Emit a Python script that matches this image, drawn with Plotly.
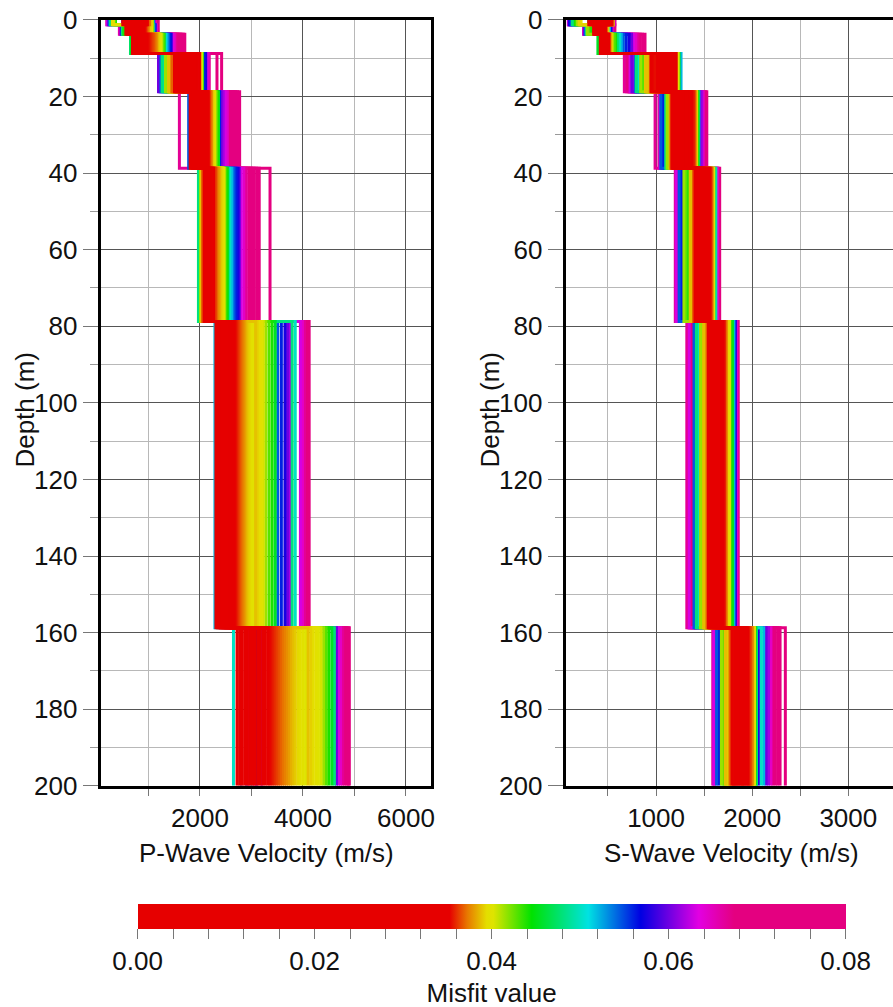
import plotly.graph_objects as go
from plotly.colors import sample_colorscale

FONT = "Liberation Sans, Arial, Helvetica, sans-serif"
FS = 26

# layer tops (m) and bottom of the model
LAYER_TOPS = [0, 1.25, 3.75, 8.75, 18.75, 38.75, 78.75, 158.75]
MAX_DEPTH = 200

# misfit of each model (groups: red, red-orange, orange, yellow, green, cyan, blue, purple, magenta, pink, extra yellow)
MISFIT = [0.012, 0.016, 0.019, 0.022, 0.024, 0.026, 0.028, 0.030, 0.031, 0.032, 0.033, 0.034,
          0.0350, 0.0353, 0.0356, 0.0359, 0.0362, 0.0365,
          0.0368, 0.0371, 0.0374, 0.0377, 0.0380, 0.0384,
          0.0388, 0.0391, 0.0394, 0.0397, 0.0400, 0.0404,
          0.0415, 0.0428, 0.0440, 0.0455,
          0.0480, 0.0500, 0.0520,
          0.0545, 0.0560, 0.0575,
          0.0600, 0.0615,
          0.0630, 0.0645,
          0.0665, 0.0685, 0.0705, 0.0725, 0.0745, 0.0770, 0.0795,
          0.0387, 0.0390, 0.0393, 0.0395, 0.0398, 0.0401]

# P-wave velocity (m/s) of every model, per layer
VP_L1 = [500, 540, 580, 620, 660, 700, 740, 780, 820, 860, 900, 940,
         960, 980, 600, 700, 800, 900,
         1000, 1020, 650, 750, 850, 950,
         1040, 1060, 300, 320, 700, 800,
         1080, 340, 360, 600,
         260, 280, 1090,
         240, 1100, 500,
         220, 1110,
         200, 1130,
         190, 1150, 1170, 1190, 700, 800, 900,
         1030, 1050, 600, 700, 800, 900]
VP_L2 = [560, 590, 620, 650, 680, 710, 740, 770, 800, 830, 860, 890,
         905, 920, 935, 950, 600, 700,
         965, 980, 995, 650, 750, 850,
         1010, 1025, 1040, 1055, 700, 800,
         1070, 1085, 520, 540,
         490, 505, 1100,
         1110, 1125, 470,
         1135, 620,
         1150, 450,
         435, 1165, 1180, 1190, 700, 800, 900,
         1000, 1030, 1060, 600, 700, 800]
VP_L3 = [690, 713, 736, 759, 782, 805, 828, 851, 874, 897, 920, 943,
         965, 990, 1015, 1040, 1065, 1090,
         1105, 1120, 1135, 1150, 1160, 750,
         1170, 1185, 1200, 1215, 1230, 1245,
         1260, 1285, 1305, 665,
         650, 1330, 1360,
         1390, 1415, 1440,
         800, 850,
         1470, 1500,
         1530, 1560, 1590, 1620, 1650, 1680, 1705,
         1175, 1190, 1210, 700, 780, 900]
VP_L4 = [1550, 1590, 1630, 1670, 1710, 1750, 1790, 1830, 1870, 1910, 1950, 1995,
         1505, 1530, 1600, 1700, 1800, 1900,
         1455, 1475, 1495, 1520, 1650, 1750,
         1390, 1410, 1430, 1445, 2015, 2035,
         1330, 1355, 1375, 2050,
         1265, 1290, 1310,
         1240, 2080, 2110,
         1195, 1220,
         2130, 2160,
         2180, 2330, 2420, 1800, 1850, 1900, 1950,
         1400, 1420, 1440, 1600, 1700, 1850]
VP_L5 = [1810, 1840, 1870, 1900, 1930, 1960, 1990, 2020, 2050, 2080, 2105, 2130,
         2145, 2160, 2175, 1850, 1950, 2050,
         2190, 2205, 2220, 1900, 2000, 2100,
         2235, 2250, 2265, 2280, 1880, 1980,
         2300, 2320, 2340, 2360,
         1920, 1970, 2010,
         1780, 2380, 2040,
         2410, 2450,
         2490, 2530,
         1600, 2570, 2610, 2650, 2690, 2730, 2770,
         1830, 1890, 1940, 2000, 2060, 2110]
VP_L6 = [2130, 2142, 2154, 2166, 2178, 2190, 2202, 2214, 2226, 2238, 2250, 2262,
         2080, 2100, 2118, 2275, 2292, 2310,
         2050, 2065, 2328, 2345, 2362, 2380,
         2030, 2400, 2420, 2440, 2455, 2470,
         2010, 2490, 2515, 2540,
         1970, 2580, 2620,
         2660, 2700, 2740,
         2765, 2200,
         2800, 2850,
         2900, 2950, 3000, 3050, 3100, 3150, 3360,
         2385, 2405, 2425, 2445, 2160, 2230]
VP_L7 = [2310, 2340, 2370, 2400, 2430, 2460, 2490, 2520, 2550, 2580, 2610, 2640,
         2660, 2680, 2700, 2720, 2740, 2760,
         2780, 2800, 2820, 2840, 2860, 2880,
         3080, 3110, 3140, 3170, 3200, 3230,
         3280, 3340, 3400, 3460,
         3790, 3850, 2290,
         3510, 3580, 3650,
         3700, 3745,
         3950, 3990,
         4030, 4060, 4090, 4120, 2400, 2500, 2600,
         2900, 2930, 2960, 2990, 3020, 3050]
VP_L8 = [2720, 2770, 2820, 2870, 2920, 2970, 3020, 3070, 3120, 3170, 3220, 3270,
         3320, 3360, 3400, 3440, 3480, 3520,
         3560, 3600, 3640, 3680, 3720, 3760,
         4100, 4150, 4200, 4250, 4300, 4350,
         4400, 4450, 4500, 4560,
         4610, 2650, 3000,
         2800, 2900, 3100,
         4650, 3200,
         4690, 4730,
         4770, 4810, 4850, 4880, 4900, 2950, 3050,
         3800, 3850, 3900, 3950, 4000, 4050]

# S-wave velocity (m/s) of every model, per layer
VS_L1 = [300, 320, 340, 360, 380, 400, 420, 440, 460, 480, 500, 520,
         530, 540, 350, 400, 450, 500,
         545, 550, 360, 410, 460, 505,
         555, 200, 210, 220, 400, 450,
         180, 190, 160, 300,
         130, 140, 150,
         120, 110, 100,
         95, 560,
         90, 565,
         87, 570, 572, 400, 450, 350, 300,
         540, 550, 350, 400, 450, 500]
VS_L2 = [350, 360, 370, 380, 390, 400, 410, 420, 430, 440, 450, 460,
         470, 475, 380, 400, 420, 440,
         480, 485, 390, 410, 430, 450,
         490, 495, 500, 370, 400, 430,
         285, 300, 320, 340,
         275, 505, 515,
         265, 520, 530,
         255, 535,
         250, 545,
         245, 555, 565, 572, 400, 420, 440,
         485, 490, 380, 400, 420, 440]
VS_L3 = [420, 427, 434, 441, 448, 455, 462, 469, 476, 483, 490, 498,
         505, 510, 450, 460, 470, 480,
         515, 520, 440, 445, 465, 475,
         525, 532, 538, 430, 455, 485,
         548, 565, 580, 395,
         600, 620, 638,
         660, 690, 720,
         745, 405,
         765, 790,
         810, 835, 860, 885, 440, 470, 490,
         520, 530, 535, 450, 470, 490]
VS_L4 = [1010, 1028, 1046, 1064, 1082, 1100, 1118, 1136, 1154, 1172, 1190, 1210,
         950, 970, 990, 1005, 1100, 1150,
         940, 960, 980, 1000, 1050, 1120,
         890, 905, 920, 935, 1220, 1230,
         840, 860, 878, 1240,
         795, 815, 1260,
         785, 805, 825,
         750, 770,
         730, 745,
         670, 690, 710, 725, 1100, 1050, 1150,
         900, 915, 930, 1225, 1100, 1150]
VS_L5 = [1182, 1199, 1216, 1233, 1250, 1267, 1284, 1301, 1318, 1335, 1352, 1372,
         1165, 1175, 1385, 1395, 1250, 1300,
         1155, 1400, 1408, 1160, 1290, 1340,
         1145, 1150, 1415, 1422, 1200, 1270,
         1115, 1130, 1430, 1438,
         1100, 1108, 1445,
         1050, 1070, 1090,
         1455, 1475,
         1040, 1490,
         990, 1030, 1500, 1515, 1528, 1230, 1320,
         1148, 1418, 1420, 1260, 1290, 1330]
VS_L6 = [1425, 1437, 1449, 1461, 1473, 1485, 1497, 1509, 1521, 1533, 1545, 1557,
         1405, 1415, 1565, 1572, 1480, 1500,
         1390, 1398, 1578, 1585, 1450, 1520,
         1355, 1368, 1380, 1592, 1600, 1460,
         1290, 1310, 1330, 1345,
         1612, 1622, 1300,
         1240, 1258, 1275,
         1250, 1283,
         1210, 1640,
         1200, 1220, 1632, 1648, 1662, 1500, 1540,
         1360, 1375, 1590, 1595, 1470, 1510]
VS_L7 = [1565, 1577, 1589, 1601, 1613, 1625, 1637, 1649, 1661, 1673, 1685, 1697,
         1545, 1555, 1705, 1715, 1600, 1650,
         1530, 1538, 1725, 1732, 1620, 1640,
         1495, 1510, 1522, 1742, 1754, 1766,
         1462, 1478, 1778, 1795,
         1420, 1440, 1810,
         1395, 1410, 1825,
         1630, 1660,
         1345, 1840,
         1320, 1335, 1365, 1380, 1855, 1350, 1680,
         1500, 1515, 1745, 1760, 1600, 1650]
VS_L8 = [1825, 1837, 1849, 1861, 1873, 1885, 1897, 1909, 1921, 1933, 1945, 1957,
         1790, 1805, 1815, 1965, 1975, 1985,
         1770, 1780, 1995, 2005, 1800, 1990,
         1720, 1735, 1750, 1760, 2015, 2025,
         1680, 1695, 1710, 2035,
         2045, 2095, 2120,
         1630, 1655, 2065,
         2145, 2170,
         1600, 2195,
         1590, 2215, 2240, 2265, 2290, 2345, 1612,
         1725, 1745, 1765, 2010, 2020, 1900]

VP_LAYERS = [VP_L1, VP_L2, VP_L3, VP_L4, VP_L5, VP_L6, VP_L7, VP_L8]
VS_LAYERS = [VS_L1, VS_L2, VS_L3, VS_L4, VS_L5, VS_L6, VS_L7, VS_L8]

CMIN, CMAX = 0.0, 0.08
COLORSCALE = [
    [0.000, "rgb(230,0,0)"],
    [0.440, "rgb(230,0,0)"],
    [0.465, "rgb(232,120,0)"],
    [0.4925, "rgb(228,222,0)"],
    [0.502, "rgb(222,228,0)"],
    [0.556, "rgb(0,226,0)"],
    [0.636, "rgb(0,226,226)"],
    [0.710, "rgb(0,0,226)"],
    [0.792, "rgb(226,0,226)"],
    [0.842, "rgb(228,0,128)"],
    [1.000, "rgb(228,0,128)"],
]


def step_profile(values):
    xs, ys = [], []
    for k, v in enumerate(values):
        top = LAYER_TOPS[k]
        bot = LAYER_TOPS[k + 1] if k + 1 < len(LAYER_TOPS) else MAX_DEPTH
        xs += [v, v]
        ys += [top, bot]
    return xs, ys


fig = go.Figure()
order = sorted(range(len(MISFIT)), key=lambda i: -MISFIT[i])  # worst first, best on top
for i in order:
    col = sample_colorscale(COLORSCALE, [(MISFIT[i] - CMIN) / (CMAX - CMIN)])[0]
    xp, yp = step_profile([layer[i] for layer in VP_LAYERS])
    xs, ys = step_profile([layer[i] for layer in VS_LAYERS])
    fig.add_trace(go.Scatter(x=xp, y=yp, mode="lines", xaxis="x", yaxis="y",
                             line=dict(color=col, width=3), showlegend=False, hoverinfo="skip"))
    fig.add_trace(go.Scatter(x=xs, y=ys, mode="lines", xaxis="x2", yaxis="y2",
                             line=dict(color=col, width=3), showlegend=False, hoverinfo="skip"))

# colour bar carrier
fig.add_trace(go.Scatter(
    x=[-5000], y=[-50], mode="markers", xaxis="x", yaxis="y", showlegend=False, hoverinfo="skip",
    marker=dict(color=[CMIN], cmin=CMIN, cmax=CMAX, colorscale=COLORSCALE, showscale=True, size=1,
                colorbar=dict(
                    orientation="h", x=491.6 / 893, xanchor="center", lenmode="fraction",
                    len=708.3 / 893, thickness=25, y=1 - 904 / 1007, yanchor="top",
                    xpad=0, ypad=0, outlinewidth=0,
                    tickvals=[round(0.004 * k, 3) for k in range(21)],
                    ticktext=[("%.2f" % (0.004 * k)) if k % 5 == 0 else "" for k in range(21)],
                    ticks="outside", ticklen=10, tickwidth=1, tickcolor="#777777",
                    tickfont=dict(family=FONT, size=FS, color="#111111"),
                    title=dict(text="Misfit value", side="bottom",
                               font=dict(family=FONT, size=FS, color="#111111")),
                ))))

H, W = 1007, 893
ytop, ybot = 20, 786.5
ydom = [1 - ybot / H, 1 - ytop / H]

axis_common = dict(showline=True, linewidth=3, linecolor="black", ticks="outside",
                   tickcolor="#777777", tickwidth=1, showgrid=True, gridcolor="#555555",
                   gridwidth=1, zeroline=False, automargin=False,
                   tickfont=dict(family=FONT, size=FS, color="#111111"))

fig.update_layout(
    width=W, height=H, margin=dict(l=0, r=0, t=0, b=0),
    paper_bgcolor="white", plot_bgcolor="white",
    xaxis=dict(domain=[100.7 / W, 430.7 / W], range=[72, 6480], anchor="y", mirror=True,
               dtick=2000, tick0=0, ticklen=7, ticklabelstandoff=0,
               minor=dict(dtick=1000, tick0=0, showgrid=True, gridcolor="#b8b8b8", ticks="outside",
                          ticklen=7, tickcolor="#777777"),
               **axis_common),
    yaxis=dict(domain=ydom, range=[200, 0], anchor="x", mirror=True,
               dtick=20, tick0=0, ticklen=15,
               minor=dict(dtick=10, tick0=0, showgrid=True, gridcolor="#b8b8b8", ticks="outside",
                          ticklen=8, tickcolor="#999999"),
               **axis_common),
    xaxis2=dict(domain=[565.7 / W, 1.0], range=[60, 3465], anchor="y2", mirror=True,
                dtick=1000, tick0=0, ticklen=7, ticklabelstandoff=0,
                minor=dict(dtick=500, tick0=0, showgrid=True, gridcolor="#b8b8b8", ticks="outside",
                           ticklen=7, tickcolor="#777777"),
                **axis_common),
    yaxis2=dict(domain=ydom, range=[200, 0], anchor="x2", mirror=False,
                dtick=20, tick0=0, ticklen=15,
                minor=dict(dtick=10, tick0=0, showgrid=True, gridcolor="#b8b8b8", ticks="outside",
                           ticklen=8, tickcolor="#999999"),
                **axis_common),
    annotations=[
        dict(text="Depth (m)", x=25 / W, y=1 - 410 / H, xref="paper", yref="paper",
             textangle=-90, showarrow=False, xanchor="center", yanchor="middle",
             font=dict(family=FONT, size=FS, color="#111111")),
        dict(text="Depth (m)", x=490 / W, y=1 - 410 / H, xref="paper", yref="paper",
             textangle=-90, showarrow=False, xanchor="center", yanchor="middle",
             font=dict(family=FONT, size=FS, color="#111111")),
        dict(text="P-Wave Velocity (m/s)", x=266 / W, y=1 - 854 / H, xref="paper", yref="paper",
             showarrow=False, xanchor="center", yanchor="middle",
             font=dict(family=FONT, size=FS, color="#111111")),
        dict(text="S-Wave Velocity (m/s)", x=731 / W, y=1 - 854 / H, xref="paper", yref="paper",
             showarrow=False, xanchor="center", yanchor="middle",
             font=dict(family=FONT, size=FS, color="#111111")),
    ],
)

fig.write_html("out.html")
